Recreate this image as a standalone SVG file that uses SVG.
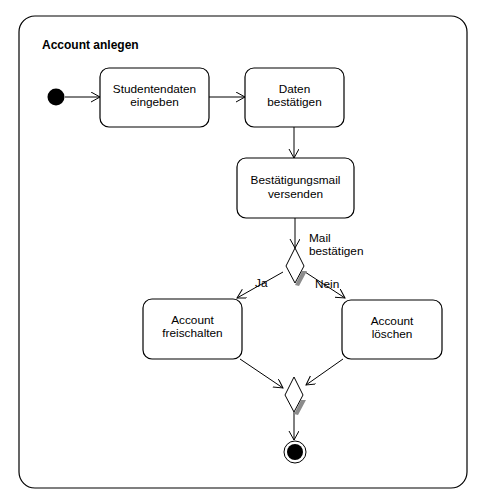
<svg xmlns="http://www.w3.org/2000/svg" width="478" height="500" viewBox="0 0 478 500">
<style>
.frame{fill:#fff;stroke:#000;stroke-width:1.2}
.act{fill:#fff;stroke:#000;stroke-width:1.2}
.lbl{font-family:"Liberation Sans",Arial,sans-serif;font-size:11.8px;fill:#000;text-anchor:middle}
.tl{font-family:"Liberation Sans",Arial,sans-serif;font-size:11.8px;fill:#000}
.title{font-family:"Liberation Sans",Arial,sans-serif;font-size:12px;font-weight:bold;fill:#000}
.edge{fill:none;stroke:#000;stroke-width:1;marker-end:url(#arr)}
.shadow{fill:#8c8c8c;stroke:none}
.dia{fill:#fff;stroke:#000;stroke-width:1}
</style>
<defs>
<marker id="arr" markerUnits="userSpaceOnUse" markerWidth="12" markerHeight="12" refX="9" refY="5" orient="auto">
<path d="M0,0 L9,5 L0,10" fill="none" stroke="#000" stroke-width="1"/>
</marker>
</defs>
<rect width="478" height="500" fill="#fff"/>
<g id="frame">
<rect class="frame" x="19" y="16" width="448" height="472" rx="16" ry="16"/>
<text class="title" x="42" y="49">Account anlegen</text>
</g>
<g id="connectors">
<line class="edge" x1="65" y1="97" x2="100" y2="97"/>
<line class="edge" x1="209" y1="97" x2="245" y2="97"/>
<line class="edge" x1="294" y1="127" x2="294" y2="158"/>
<line class="edge" x1="295" y1="218" x2="295" y2="248"/>
<line class="edge" x1="283" y1="272" x2="237" y2="298"/>
<line class="edge" x1="305" y1="272" x2="345" y2="298"/>
<line class="edge" x1="240" y1="359" x2="283" y2="388"/>
<line class="edge" x1="343" y1="359" x2="306" y2="385"/>
<line class="edge" x1="294" y1="412" x2="294" y2="440"/>
<text class="tl" x="309" y="242">Mail</text>
<text class="tl" x="309" y="255">bestätigen</text>
<text class="tl" x="255" y="287">Ja</text>
<text class="tl" x="315" y="288">Nein</text>
</g>
<g id="start">
<circle cx="56" cy="97" r="8.5" fill="#000"/>
</g>
<g id="studentendaten">
<rect class="act" x="100" y="68" width="109" height="59" rx="9" ry="9"/>
<text class="lbl" x="154.5" y="93">Studentendaten</text>
<text class="lbl" x="154.5" y="106">eingeben</text>
</g>
<g id="bestaetigen">
<rect class="act" x="245" y="68" width="99" height="59" rx="9" ry="9"/>
<text class="lbl" x="294.5" y="93">Daten</text>
<text class="lbl" x="294.5" y="106">bestätigen</text>
</g>
<g id="versenden">
<rect class="act" x="237" y="158" width="117" height="60" rx="9" ry="9"/>
<text class="lbl" x="295.5" y="184">Bestätigungsmail</text>
<text class="lbl" x="295.5" y="197.5">versenden</text>
</g>
<g id="decision">
<polygon class="shadow" points="302,271 307,271 299,286 295,285"/>
<polygon class="dia" points="295,248 304,266 295,283 286,266"/>
</g>
<g id="freischalten">
<rect class="act" x="143" y="299" width="99" height="60" rx="9" ry="9"/>
<text class="lbl" x="192.5" y="324">Account</text>
<text class="lbl" x="192.5" y="337">freischalten</text>
</g>
<g id="loeschen">
<rect class="act" x="342" y="300" width="100" height="59" rx="9" ry="9"/>
<text class="lbl" x="392" y="325">Account</text>
<text class="lbl" x="392" y="338">löschen</text>
</g>
<g id="merge">
<polygon class="shadow" points="301,400 306,400 298,415 294,414"/>
<polygon class="dia" points="294,377 303,395 294,412 285,395"/>
</g>
<g id="end">
<circle cx="295" cy="452" r="11" fill="#fff" stroke="#000" stroke-width="1"/>
<circle cx="295" cy="452" r="8" fill="#000"/>
</g>
</svg>
